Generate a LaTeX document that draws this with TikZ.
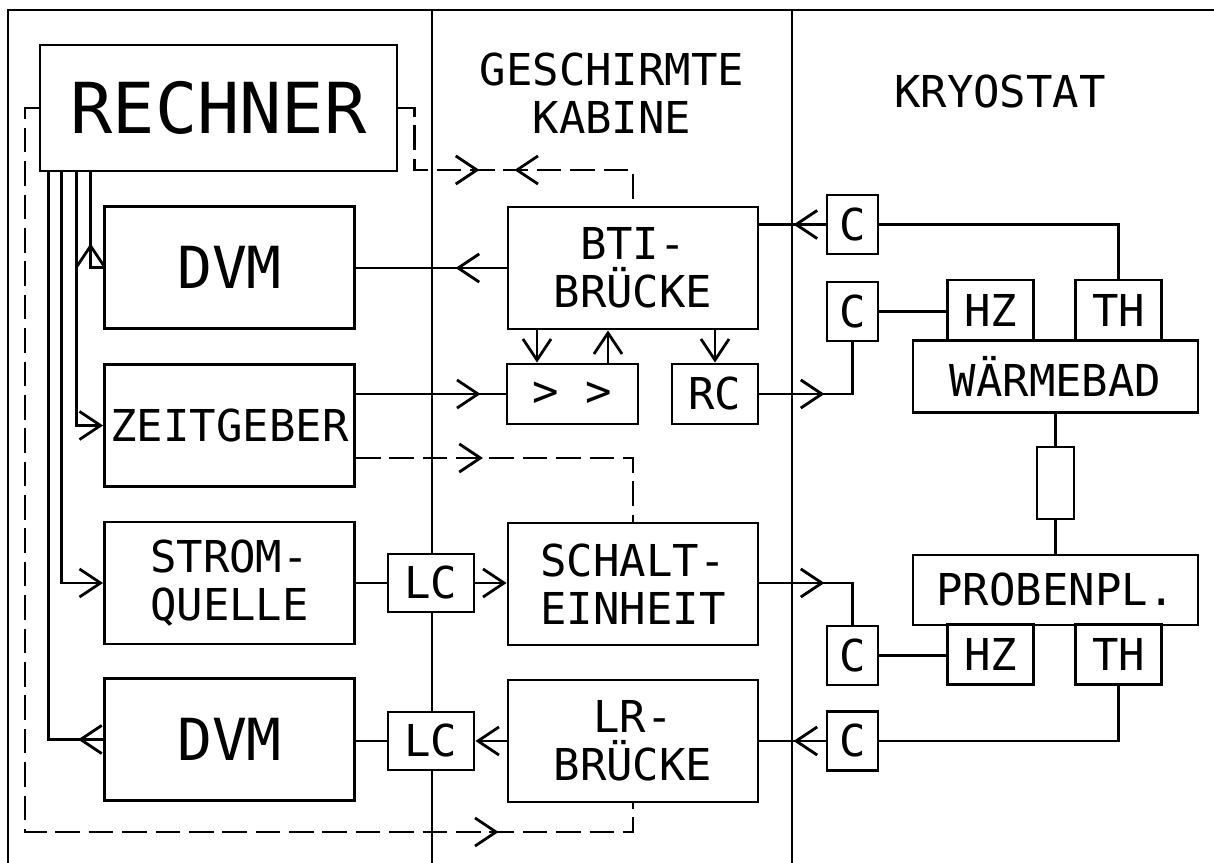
\documentclass[tikz,border=0pt]{standalone}
\usepackage{fontspec}
\setmainfont{DejaVu Sans Mono}
\usetikzlibrary{arrows.meta,decorations.markings}

\begin{document}
\begin{tikzpicture}[
    font=\fontsize{12.5}{13.5}\selectfont,
    line width=0.8pt,
    >={Straight Barb[length=6pt,width=8pt]},
    box/.style={draw, fill=white, inner sep=0pt, align=center},
    unit/.style={box, minimum width=2.5cm, minimum height=1.22cm},
    cbox/.style={box, minimum width=0.51cm, minimum height=0.59cm},
    sens/.style={box, minimum width=0.86cm, minimum height=0.6cm},
    bath/.style={box, minimum width=2.85cm, minimum height=0.72cm},
    dashline/.style={dash pattern=on 7pt off 2.5pt},
    midarr/.style={postaction={decorate,decoration={markings,mark=at position #1 with {\arrow{>}}}}},
    midrev/.style={postaction={decorate,decoration={markings,mark=at position #1 with {\arrowreversed{>}}}}},
  ]
    \useasboundingbox (0,0) rectangle (12.14,-8.63);

    \draw (12.14,-0.10) -- (0.08,-0.10) -- (0.08,-8.63);
    \draw (4.32,-0.10) -- (4.32,-8.63);
    \draw (7.92,-0.10) -- (7.92,-8.63);

    \node[align=center] (kab) at (6.12,-0.93) {GESCHIRMTE\\KABINE};
    \node (kryo) at (10.0,-0.92) {KRYOSTAT};

    \node[box, minimum width=3.57cm, minimum height=1.26cm, font=\fontsize{20}{24}\selectfont] (rech) at (2.185,-1.08) {RECHNER};
    \node[unit, font=\fontsize{16.5}{20}\selectfont] (dvmA)  at (2.295,-2.675) {DVM};
    \node[unit] (zeit)  at (2.295,-4.255) {ZEITGEBER};
    \node[unit] (strom) at (2.295,-5.83)  {STROM-\\QUELLE};
    \node[unit, font=\fontsize{16.5}{20}\selectfont] (dvmB)  at (2.295,-7.395) {DVM};

    \node[unit] (bti)    at (6.33,-2.68) {BTI-\\BRÜCKE};
    \node[box, minimum width=1.31cm, minimum height=0.6cm] (amp) at (5.725,-3.94) {> >};
    \node[sens] (rc)     at (7.15,-3.94) {RC};
    \node[unit] (schalt) at (6.33,-5.84) {SCHALT-\\EINHEIT};
    \node[unit] (lr)     at (6.33,-7.41) {LR-\\BRÜCKE};
    \node[sens, minimum height=0.58cm] (lcA) at (4.31,-5.83) {LC};
    \node[sens, minimum height=0.58cm] (lcB) at (4.31,-7.41) {LC};

    \node[cbox] (cA) at (8.525,-2.245) {C};
    \node[cbox] (cB) at (8.525,-3.115) {C};
    \node[cbox] (cC) at (8.525,-6.555) {C};
    \node[cbox] (cD) at (8.525,-7.41)  {C};
    \node[sens] (hzA) at (9.905,-3.10)  {HZ};
    \node[sens] (thA) at (11.185,-3.10) {TH};
    \node[bath] (bad) at (10.555,-3.765) {WÄRMEBAD};
    \node[box, minimum width=0.37cm, minimum height=0.72cm] (res) at (10.555,-4.83) {};
    \node[bath, minimum height=0.7cm] (probe) at (10.555,-5.90) {PROBENPL.};
    \node[sens] (hzB) at (9.905,-6.545)  {HZ};
    \node[sens] (thB) at (11.185,-6.545) {TH};

    \coordinate (dl) at (0.25,-8.32);
    \coordinate (dt) at (6.33,-1.70);

    \draw[midarr=-0.71cm] (dvmA.west) -| ([xshift=5.2mm]rech.south west);
    \draw[->] ([xshift=3.8mm]rech.south west) |- (zeit.west);
    \draw[->] ([xshift=2.3mm]rech.south west) |- (strom.west);
    \draw[midarr=0.25cm] (dvmB.west) -| ([xshift=1mm]rech.south west);

    \draw[dashline, midarr=-1.63cm] (rech.west) -| (dl) -| (lr.south);
    \draw[dashline, midarr=1.43cm, midrev=1.78cm] (rech.east) -- ++(0.16,0) |- (dt) -- (bti.north);
    \draw[dashline, midarr=1.27cm] ([yshift=-3.25mm]zeit.east) -| (schalt.north);

    \draw[midarr=0.51cm] (bti.west) -- (bti.west -| dvmA.east);
    \draw[->] ([xshift=-3.55mm]amp.north |- bti.south) -- ([xshift=-3.55mm]amp.north);
    \draw[->] ([xshift=3.55mm]amp.north) -- ([xshift=3.55mm]amp.north |- bti.south);
    \draw[->] (rc.north |- bti.south) -- (rc.north);
    \draw[midarr=-0.25cm] (zeit.east |- amp.west) -- (amp.west);
    \draw[midarr=0.65cm] (rc.east) -| (cB.south);

    \draw[midarr=0.32cm] (cA.west) -- (cA.west -| bti.east);
    \draw (thA.north) |- (cA.east);
    \draw (cB.east) -- (cB.east -| hzA.west);
    \foreach \a/\b in {bad/res,res/probe}
      \draw (\a.south) -- (\b.north);

    \draw (strom.east) -- (lcA.west);
    \draw[->] (lcA.east) -- (lcA.east -| schalt.west);
    \draw[->] (lr.west) -- (lcB.east);
    \draw (lcB.west) -- (lcB.west -| dvmB.east);
    \draw[midarr=0.65cm] (schalt.east |- lcA.east) -| (cC.north);
    \draw (cC.east) -- (cC.east -| hzB.west);
    \draw (thB.south) |- (cD.east);
    \draw[midarr=0.32cm] (cD.west) -- (lr.east);
\end{tikzpicture}
\end{document}
